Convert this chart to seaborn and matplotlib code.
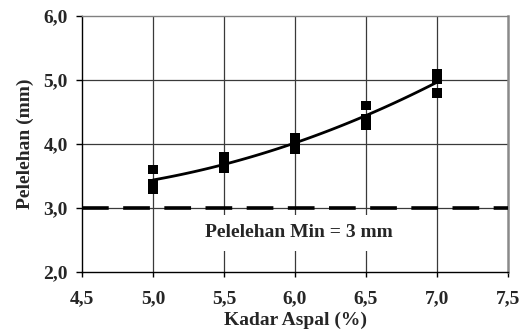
import matplotlib
matplotlib.use("Agg")
import matplotlib.pyplot as plt
import matplotlib.ticker as mticker
import numpy as np
import pandas as pd
import seaborn as sns

# Data
kadar_aspal = [5.0, 5.0, 5.0, 5.5, 5.5, 5.5, 6.0, 6.0, 6.0, 6.5, 6.5, 6.5, 7.0, 7.0, 7.0]
pelelehan = [3.6, 3.38, 3.3, 3.8, 3.7, 3.62, 4.1, 4.0, 3.92, 4.6, 4.4, 4.3, 5.1, 5.02, 4.8]
batas_min = 3.0
label_min = "Pelelehan Min = 3 mm"
x_ticks = [4.5, 5.0, 5.5, 6.0, 6.5, 7.0, 7.5]
y_ticks = [2.0, 3.0, 4.0, 5.0, 6.0]

df = pd.DataFrame({"Kadar Aspal (%)": kadar_aspal, "Pelelehan (mm)": pelelehan})

sns.set_style("white")
plt.rcParams["font.family"] = ["Liberation Serif", "DejaVu Serif"]
plt.rcParams["font.weight"] = "bold"

fig = plt.figure(figsize=(5.31, 3.36), dpi=100)
ax = fig.add_axes([82 / 531, 1 - 272 / 336, (508 - 82) / 531, (272 - 16) / 336])

ax.set_xlim(4.5, 7.5)
ax.set_ylim(2.0, 6.0)

# gridlines
for xv in x_ticks[1:-1]:
    ax.axvline(xv, color="#3a3a3a", lw=0.9, zorder=1)
for yv in y_ticks[1:-1]:
    ax.axhline(yv, color="#3a3a3a", lw=0.9, zorder=1)

sns.regplot(data=df, x="Kadar Aspal (%)", y="Pelelehan (mm)", order=2, ci=None, ax=ax,
            marker="s", color="black",
            scatter_kws=dict(s=48, color="black", edgecolors="none", zorder=5, alpha=1),
            line_kws=dict(color="black", lw=2.0, zorder=4))

ax.axhline(batas_min, color="black", lw=2.6, dashes=(7.4, 4.0), zorder=3)

ax.text(6.03, 2.61, label_min, ha="center", va="center", fontsize=14, fontweight="bold",
        bbox=dict(boxstyle="square,pad=0.5", facecolor="white", edgecolor="none"), zorder=6)

ax.set_xticks(x_ticks)
ax.set_yticks(y_ticks)
fmt = mticker.FuncFormatter(lambda v, p: f"{v:.1f}".replace(".", ","))
ax.xaxis.set_major_formatter(fmt)
ax.yaxis.set_major_formatter(fmt)
ax.xaxis.set_minor_locator(mticker.MultipleLocator(0.1))

ax.tick_params(axis="x", which="major", direction="out", length=3.6, width=1, color="black",
               labelsize=14, pad=9.5)
ax.tick_params(axis="x", which="minor", direction="out", length=3.6, width=1, color="black")
ax.tick_params(axis="y", which="major", direction="out", length=4.3, width=1, color="black",
               labelsize=14, pad=5.8)
ax.tick_params(axis="y", which="minor", length=0)
ax.tick_params(bottom=True, left=True, top=False, right=False)
for lab in ax.get_xticklabels() + ax.get_yticklabels():
    lab.set_fontweight("bold")

ax.set_xlabel("Kadar Aspal (%)", fontsize=14, fontweight="bold", labelpad=3)
ax.set_ylabel("Pelelehan (mm)", fontsize=14, fontweight="bold", labelpad=7)

for side in ["left", "bottom"]:
    ax.spines[side].set_color("black")
    ax.spines[side].set_linewidth(1.0)
ax.spines["top"].set_color("#808080")
ax.spines["top"].set_linewidth(1.0)
ax.spines["right"].set_color("#8a8a8a")
ax.spines["right"].set_linewidth(1.8)
for s in ax.spines.values():
    s.set_visible(True)
    s.set_zorder(2)

fig.savefig("out.png", dpi=100, facecolor="white")
